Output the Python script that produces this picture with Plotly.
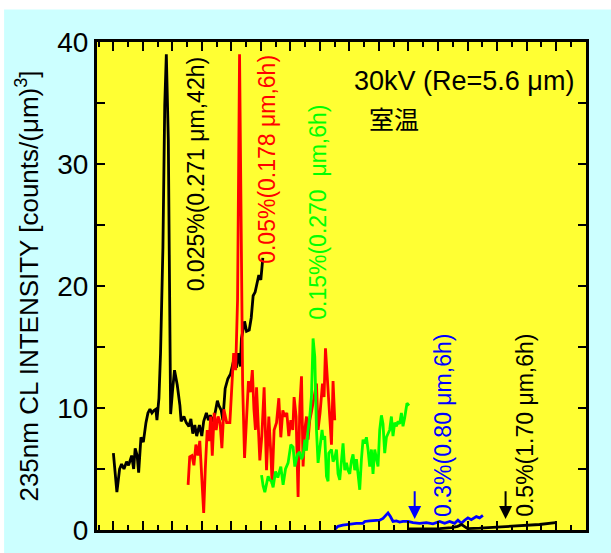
import plotly.graph_objects as go

# x: channel (arbitrary, unlabeled axis); y: 235nm CL intensity
x_025 = [16.4, 19.9, 22.6, 24.6, 27, 29.6, 31.6, 34.7, 36.7, 38.2, 40.2, 41.7, 44, 46.4, 49, 51, 53, 55, 57, 58.9,
         60, 62, 63.6, 66, 67.8, 69.4, 71.4, 72.5, 73.7, 75.6, 77.6, 80.3, 83, 84.2, 87, 89.3, 92, 94, 95.9, 97.9,
         99.8, 102.5, 104.9, 106.8, 109.5, 111.5, 113.4, 116.6, 118.5, 120.5, 122, 124.4, 126, 128.3, 131, 133.7,
         136.8, 139.5, 141.5, 143.5, 144.6, 147.7, 149.7, 152.4, 154.4, 156.3, 158.3, 160.2, 162, 164, 166]
y_025 = [6.3, 3.1, 5.0, 5.4, 5.0, 5.6, 5.3, 6.1, 5.0, 6.7, 6.1, 4.7, 7.6, 7.2, 8.8, 9.6, 9.9, 9.6, 9.8, 9.9,
         9.0, 10.8, 14.5, 23.2, 34.8, 39.0, 31.9, 17.5, 9.5, 11.4, 13.1, 11.9, 10.2, 8.9, 9.3, 8.8, 8.5, 9.1, 7.9, 8.6,
         7.7, 8.6, 7.7, 8.9, 9.6, 9.0, 9.4, 8.9, 9.9, 10.6, 10.2, 9.8, 9.0, 11.6, 12.4, 12.8,
         13.9, 13.3, 14.5, 13.4, 15.7, 17.1, 16.3, 16.4, 17.4, 19.2, 19.5, 20.3, 20.9, 20.5, 22.3]

x_05 = [91.2, 92.8, 95, 97, 99, 101, 102.9, 104.9, 106.8, 108.4, 110.3, 112.3, 113.8, 115.4, 117.3, 119.3, 121.2,
        123.2, 125, 127, 129.8, 133, 134.9, 136.8, 138.8, 140.7, 142.7, 144.6, 145.8, 147.7, 149.7, 151.6, 153.6,
        155.5, 157.1, 158.6, 159.7, 161.3, 163, 165, 167.3, 169.7, 172, 174, 175.3, 177.3, 179.7, 182, 184, 186,
        188, 190, 192, 194, 196, 197.3, 199.3, 201.3, 203, 204.7, 206.3, 208, 209.7, 211.3, 213, 214.7, 217.3,
        219.7, 221.3, 223.3, 225.7, 227.3, 228.7, 230.7, 232.7, 234.7, 236.3, 238]
y_05 = [3.7, 6.0, 6.1, 5.3, 7.0, 6.1, 7.3, 4.4, 1.4, 5.0, 8.2, 7.3, 9.3, 6.1, 9.6, 8.2, 9.3,
        8.8, 6.7, 9.9, 8.8, 8.8, 12.2, 14.5, 13.1, 18.9, 39.0, 24.7, 11.9, 5.9, 8.8, 12.2, 11.3,
        13.1, 9.9, 8.2, 11.7, 9.3, 5.7, 7.7, 11.7, 4.9, 9.3, 6.3, 3.8, 8.2, 8.8, 10.8, 7.6, 9.8,
        9.3, 9.6, 7.7, 9.0, 8.2, 10.9, 9.3, 2.7, 10.1, 12.6, 5.2, 8.2, 9.3, 7.4, 9.0, 9.7, 10.9,
        12.0, 8.2, 9.6, 12.0, 10.9, 14.9, 12.0, 9.3, 7.0, 12.2, 9.0]

x_15 = [164.7, 166.3, 168, 170, 171.3, 173, 174.7, 176.3, 178.7, 181, 184, 186.3, 188.7, 191.3, 194, 196.3, 198,
        200.7, 203, 204.7, 206.3, 208, 209.7, 211.3, 213, 214.7, 216.3, 218, 219.7, 221.3, 223, 225.3, 226.3, 228,
        229.7, 231.3, 232, 234.7, 236.3, 238, 239.7, 241.3, 243, 244.7, 246.3, 248, 249.7, 251.3, 253, 254.7,
        256.3, 258, 259.7, 261.3, 263, 264.7, 266.3, 268, 269.7, 271.3, 273, 274.7, 276.3, 278, 279.7, 281.3,
        283, 284.7, 286.3, 288, 289.7, 291.3, 293, 294.7, 296.3, 298, 299.7, 301.3, 303, 304.7, 306.3, 308,
        310.3, 312.3]
y_15 = [4.5, 3.6, 3.1, 3.9, 4.4, 4.1, 4.0, 3.5, 4.8, 4.3, 5.2, 3.7, 5.0, 5.5, 7.0, 6.8, 5.2,
        6.2, 6.4, 5.8, 6.1, 7.4, 6.5, 8.2, 9.3, 11.0, 15.7, 14.2, 8.2, 5.5, 6.6, 8.2, 7.4, 7.7,
        4.4, 4.0, 6.3, 6.6, 5.6, 5.9, 6.6, 4.6, 4.1, 6.0, 7.1, 4.9, 5.5, 4.9, 4.6, 5.7,
        6.2, 4.9, 5.8, 4.6, 3.3, 5.8, 7.4, 7.1, 7.6, 6.6, 5.2, 6.6, 4.6, 6.6, 6.0, 5.2,
        8.2, 9.4, 8.7, 6.3, 7.6, 7.9, 8.2, 9.3, 7.7, 8.8, 8.5, 8.9, 8.7, 9.6, 8.5, 9.2,
        10.4, 10.2]

x_3 = [238, 241.3, 246, 253, 259.7, 266.3, 268, 273, 278, 283, 286.3, 289, 291.3, 293.7, 296.3, 299.7, 303,
       306.3, 311.3, 316.3, 323, 329.7, 336.3, 343, 348, 353, 358, 361.3, 364.7, 368, 371.3, 374.7, 379.7,
       383, 386.3]
y_3 = [0.05, 0.3, 0.4, 0.5, 0.55, 0.55, 0.7, 0.75, 0.8, 0.8, 0.95, 1.2, 1.4, 1.1, 0.7, 0.75, 0.65,
       0.7, 0.7, 0.6, 0.55, 0.6, 0.5, 0.7, 0.55, 0.7, 0.55, 0.8, 0.55, 0.8, 1.0, 0.85, 1.1,
       1.0, 1.2]

x_5 = [312, 328, 343, 355, 361, 365, 368, 371, 383, 403, 423, 443, 459]
y_5 = [0.08, 0.1, 0.12, 0.2, 0.3, 0.45, 0.3, 0.12, 0.15, 0.25, 0.35, 0.45, 0.6]

labels = ["0.025%(0.271 μm,42h)", "0.05%(0.178 μm,6h)", "0.15%(0.270  μm,6h)",
          "0.3%(0.80 μm,6h)", "0.5%(1.70 μm,6h)"]
colors = ["#000000", "#FF0000", "#00FF00", "#0000FF", "#000000"]
label_x = [100, 170.5, 220.5, 347, 429]
label_top = [38.9, 39.1, 35.0, 16.25, 16.25]
arrow_x = [318, 409]
arrow_from, arrow_to = 3.3, 0.9
y_ticks = [0, 10, 20, 30, 40]

FONT = "Arial, Liberation Sans, sans-serif"
fig = go.Figure()
series = [(x_025, y_025), (x_05, y_05), (x_15, y_15), (x_3, y_3), (x_5, y_5)]
for (xs, ys), c, name in zip(series, colors, labels):
    fig.add_trace(go.Scatter(x=xs, y=ys, mode="lines", line=dict(color=c, width=2.8),
                             name=name, showlegend=False))

ann = []
for t, c, xx, yt in zip(labels, colors, label_x, label_top):
    ann.append(dict(x=xx, y=yt, xref="x", yref="y", text=t, textangle=-90, showarrow=False,
                    xanchor="center", yanchor="top", font=dict(family=FONT, size=23, color=c)))
for xx, c in zip(arrow_x, ["#0000FF", "#000000"]):
    ann.append(dict(x=xx, y=arrow_to, ax=xx, ay=arrow_from, xref="x", yref="y", axref="x", ayref="y",
                    text="", showarrow=True, arrowhead=2, arrowsize=1.3, arrowwidth=2, arrowcolor=c))
ann.append(dict(x=479, y=35.45, xref="x", yref="y", text="30kV (Re=5.6 μm)", showarrow=False,
                xanchor="right", yanchor="bottom", font=dict(family=FONT, size=27, color="black")))
ann.append(dict(x=297, y=35.45, xref="x", yref="y", text="室温", showarrow=False,
                xanchor="center", yanchor="top", font=dict(family="Noto Sans CJK JP", size=25, color="black")))

fig.update_layout(
    width=611, height=553,
    margin=dict(l=97, r=24.5, t=41.6, b=23, autoexpand=False),
    paper_bgcolor="#CCFFFF", plot_bgcolor="#FFFF33",
    annotations=ann,
    shapes=[
        dict(type="rect", xref="paper", yref="paper", x0=-0.3, x1=1.1, y0=1.0667, y1=1.2,
             fillcolor="white", line=dict(width=0), layer="below"),
        dict(type="rect", xref="paper", yref="paper", x0=-0.3, x1=-0.19, y0=-0.1, y1=1.2,
             fillcolor="white", line=dict(width=0), layer="below"),
    ],
)
fig.update_xaxes(range=[0, 489.5], showticklabels=False, showgrid=False, zeroline=False, automargin=False,
                 showline=True, linecolor="black", linewidth=3, mirror="ticks",
                 ticks="inside", tick0=16.3, dtick=29.55, ticklen=9, tickwidth=1.5, tickcolor="black",
                 minor=dict(ticks="inside", tick0=16.3, dtick=14.775, ticklen=5, tickwidth=1.5, tickcolor="black"))
fig.update_yaxes(range=[0, 40], tickvals=y_ticks, showgrid=False, zeroline=False, automargin=False,
                 showline=True, linecolor="black", linewidth=3, mirror="ticks",
                 ticks="inside", ticklen=8, tickwidth=2, tickcolor="black",
                 minor=dict(ticks="inside", dtick=5, ticklen=8, tickwidth=2, tickcolor="black"),
                 tickfont=dict(family=FONT, size=28, color="black"),
                 title=dict(text="235nm CL INTENSITY [counts/(μm)<sup>3</sup>]", standoff=12,
                            font=dict(family=FONT, size=26, color="black")))
fig.write_html("out.html", config={"displayModeBar": False},
               post_script="document.body.style.margin='0';document.body.style.overflow='hidden';")
